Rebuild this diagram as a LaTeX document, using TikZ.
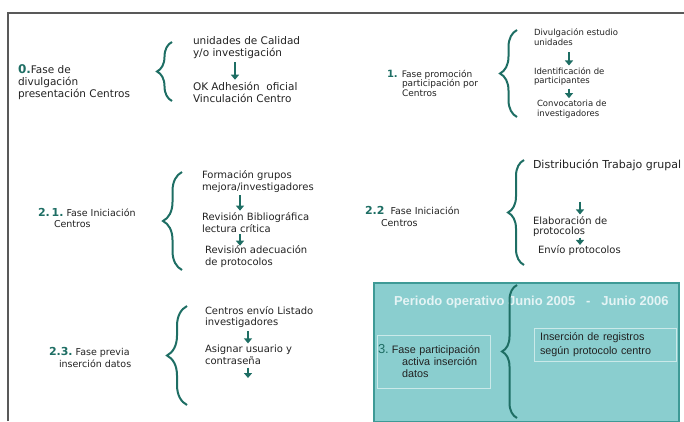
\documentclass[tikz,border=0pt]{standalone}
\usepackage{fontspec}
\setmainfont{DejaVu Sans}
\newfontfamily\cajafont{Liberation Sans}
\usetikzlibrary{arrows.meta,decorations.pathreplacing}
\definecolor{verde}{HTML}{1E6E64}
\definecolor{turquesa}{HTML}{8ACECF}
\definecolor{bordecaja}{HTML}{3E9A96}
\definecolor{texto}{HTML}{222222}
\newcommand\cifra[2][12]{{\color{verde}\bfseries\fontsize{#1}{#1}\selectfont#2}}

\begin{document}
\begin{tikzpicture}[x=1pt,y=-1pt,inner sep=0pt,outer sep=0pt,
paso/.style={anchor=west,align=left,text=texto,font=\fontsize{10}{11.5}\selectfont},
fase/.style={anchor=west,align=left,text=texto,font=\fontsize{9.5}{11.5}\selectfont},
flecha/.style={draw=verde,line width=2.6pt,-{Triangle[length=5pt,width=8pt]},shorten <=3pt,shorten >=2pt},
llave/.style={draw=verde,line width=2pt,decorate,decoration={brace,amplitude=#1}},
llave/.default=15pt,
marco/.style={draw=black!65,line width=1.2pt},
periodo/.style={draw=bordecaja,fill=turquesa,line width=1.5pt,anchor=north west},
recuadro/.style={draw=white!55!turquesa,line width=0.8pt,anchor=north west,align=left,text=texto}]
\useasboundingbox (0,0) rectangle (684,421);
\draw[marco] (8,421) -- (8,13) -- (684,13);

% fase 0
\node[fase,font=\fontsize{10.5}{12}\selectfont] (f0) at (18,82) {\cifra{0.}Fase de\\divulgación\\presentación Centros};
\draw[llave] (172,101) -- (172,42);
\node[paso,font=\fontsize{10.5}{12}\selectfont] (f0a) at (193,48) {unidades de Calidad\\y/o investigación};
\node[paso,font=\fontsize{10.5}{12}\selectfont] (f0b) at (193,92) {OK Adhesión~ oficial\\Vinculación Centro};
\draw[flecha] ([xshift=42]f0a.south west) -- ([xshift=42]f0b.north west);

% fase 1
\node[fase,font=\fontsize{9}{9.5}\selectfont] (f1) at (387,83) {\cifra[10]{1.}\hspace{4pt}Fase promoción\\\hspace{15pt}participación por\\\hspace{15pt}Centros};
\draw[llave=17pt] (517,117) -- (517,30);
\node[paso,font=\fontsize{8.5}{9.5}\selectfont] (f1a) at (534,37) {Divulgación estudio\\unidades};
\node[paso,font=\fontsize{8.5}{9.5}\selectfont] (f1b) at (534,76.5) {Identificación de\\participantes};
\node[paso,font=\fontsize{8.5}{9.5}\selectfont] (f1c) at (537,109) {Convocatoria de\\investigadores};
\draw[flecha,shorten <=7pt] ([xshift=35]f1a.south west) -- ([xshift=35]f1b.north west);
\draw[flecha] ([xshift=35]f1b.south west) -- ([xshift=32]f1c.north west);

% fase 2.1
\node[fase] (f21) at (38,218) {\cifra[11]{2.\,1.}\ Fase Iniciación\\\hspace{16pt}Centros};
\draw[llave=19pt] (182,270) -- (182,172);
\node[paso] (f21a) at (202,181.5) {Formación grupos\\mejora/investigadores};
\node[paso] (f21b) at (202,222.5) {Revisión Bibliográfica\\lectura crítica};
\node[paso] (f21c) at (205,256.5) {Revisión adecuación\\de protocolos};
\draw[flecha] ([xshift=38]f21a.south west) -- ([xshift=38]f21b.north west);
\draw[flecha,shorten <=2pt,shorten >=0pt] ([xshift=38]f21b.south west) -- ([xshift=35]f21c.north west);

% fase 2.2
\node[fase] (f22) at (365,216.5) {\cifra[11]{2.2}\ \ Fase Iniciación\\\hspace{16pt}Centros};
\draw[llave=16pt] (524,265) -- (524,160);
\node[paso,font=\fontsize{11}{12}\selectfont] (f22a) at (533,165) {Distribución Trabajo grupal};
\node[paso,font=\fontsize{10}{10}\selectfont] (f22b) at (533,226.5) {Elaboración de\\protocolos};
\node[paso] (f22c) at (538,251) {Envío protocolos};
\draw[flecha,shorten <=31pt] ([xshift=47]f22a.south west) -- ([xshift=47]f22b.north west);
\draw[flecha,shorten <=1pt,shorten >=1pt] ([xshift=47]f22b.south west) -- ([xshift=42]f22c.north west);

% fase 2.3
\node[fase] (f23) at (49,357.5) {\cifra[11]{2.3.}\ Fase previa\\\hspace{10pt}inserción datos};
\draw[llave=20pt] (187,405) -- (187,306);
\node[paso] (f23a) at (205,317) {Centros envío Listado\\investigadores};
\node[paso] (f23b) at (205,355) {Asignar usuario y\\contraseña};
\coordinate (f23fin) at (248,380);
\draw[flecha] ([xshift=43]f23a.south west) -- ([xshift=43]f23b.north west);
\draw[flecha] ([xshift=43]f23b.south west) -- (f23fin);

% fase 3
\node[periodo,minimum width=305,minimum height=139] (p3) at (374,283) {};
\node[anchor=west,text=white!78!turquesa,font=\cajafont\bfseries\fontsize{13}{13}\selectfont] (p3tit) at (394,302) {Periodo operativo Junio 2005\ \ \ -\ \ \ Junio 2006};
\draw[llave] (517,418) -- (517,285);
\node[recuadro,minimum width=113,minimum height=53,text width=111,inner xsep=1pt,font=\cajafont\fontsize{10.8}{12}\selectfont] (p3izq) at (377,335) {{\color{verde}\fontsize{13}{13}\selectfont 3.}\hspace{3pt}Fase participación\\\hspace{24pt}activa inserción\\\hspace{24pt}datos};
\node[recuadro,minimum width=142,minimum height=33,text width=130,inner xsep=6pt,font=\cajafont\fontsize{10.8}{14}\selectfont] (p3der) at (534,328) {Inserción de registros\\según protocolo centro};

\end{tikzpicture}
\end{document}
